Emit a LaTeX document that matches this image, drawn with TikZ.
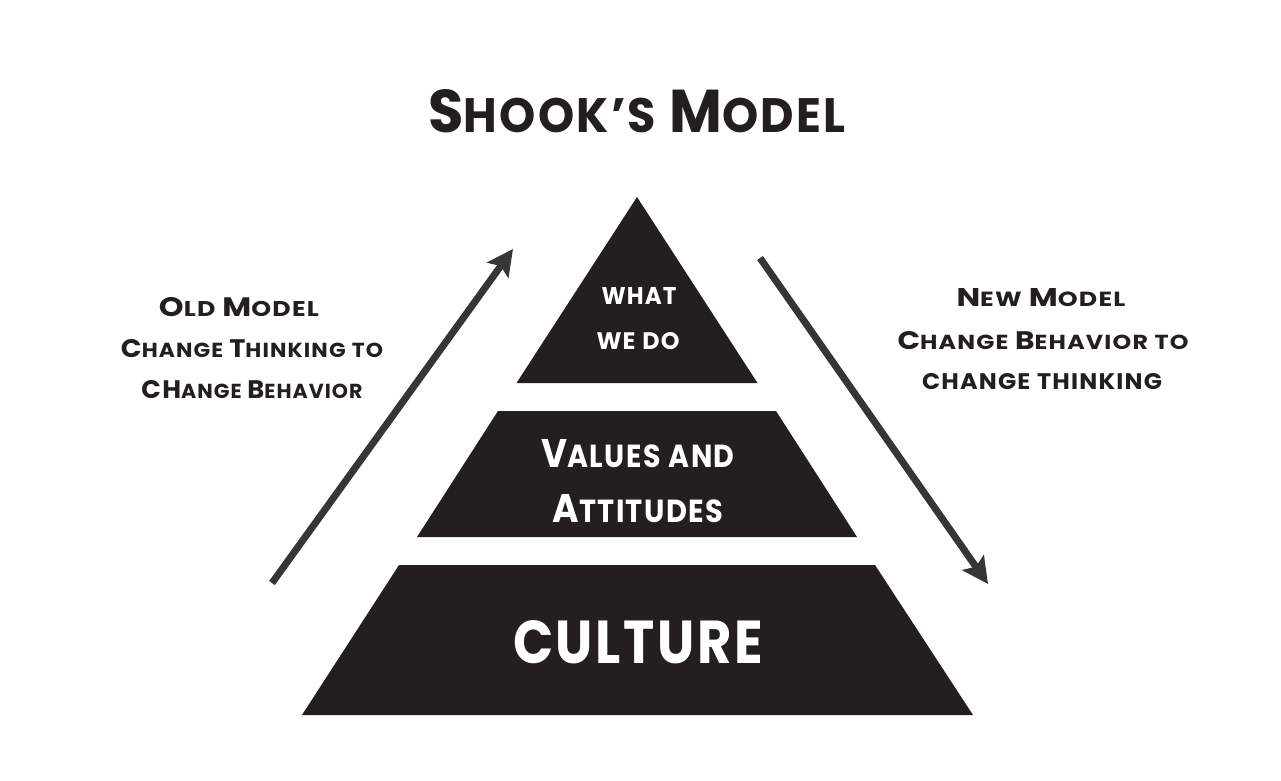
\documentclass[tikz,border=0pt]{standalone}
\usepackage{fontspec}
\setmainfont{Poppins}[LetterSpace=5]
\usetikzlibrary{arrows.meta}
\definecolor{pyr}{HTML}{231F20}
\definecolor{arr}{HTML}{363636}
\newcommand\BL[1]{{\fontsize{20}{24}\selectfont #1}}
\newcommand\SL[1]{{\fontsize{16}{24}\selectfont #1}}
\newcommand\gap{\hspace{0.45em}}
\newcommand\fitto[3]{\resizebox{#1}{#2}{\bfseries #3}}
\begin{document}
\begin{tikzpicture}[x=1pt,y=-1pt,
  lbl/.style={inner sep=0pt,outer sep=0pt,text=pyr},
  wlbl/.style={inner sep=0pt,outer sep=0pt,text=white},
  layer/.style={fill=pyr},
  flow/.style={draw=arr,line width=7pt,-{Stealth[length=26pt,width=26pt,inset=5pt]}}]
\useasboundingbox (0,0) rectangle (1281,780);
\fill[white] (0,0) rectangle (1281,780);
% pyramid
\fill[layer] (637,197) -- (757.5,383) -- (516.5,383) -- cycle;
\fill[layer] (498,411) -- (776,411) -- (857,537) -- (417,537) -- cycle;
\fill[layer] (399,565) -- (875,565) -- (973,715) -- (302,715) -- cycle;
% title
\node[lbl] (title) at (637,111) {\fitto{417pt}{43pt}{\BL{S}\SL{HOOK'S}\gap\BL{M}\SL{ODEL}}};
% left text
\node[lbl] (l1) at (239,307) {\fitto{160pt}{19pt}{\BL{O}\SL{LD}\gap\BL{M}\SL{ODEL}}};
\node[lbl] (l2) at (252,349) {\fitto{262pt}{18pt}{\BL{C}\SL{HANGE}\gap\BL{T}\SL{HINKING}\gap\SL{TO}}};
\node[lbl] (l3) at (252,390) {\fitto{221pt}{18pt}{\BL{CH}\SL{ANGE}\gap\BL{B}\SL{EHAVIOR}}};
% right text
\node[lbl] (r1) at (1041,298) {\fitto{169pt}{18pt}{\BL{N}\SL{EW}\gap\BL{M}\SL{ODEL}}};
\node[lbl] (r2) at (1043,341) {\fitto{291pt}{18pt}{\BL{C}\SL{HANGE}\gap\BL{B}\SL{EHAVIOR}\gap\SL{TO}}};
\node[lbl] (r3) at (1042,382) {\fitto{240pt}{16pt}{\SL{CHANGE}\gap\SL{THINKING}}};
% inner labels
\node[wlbl] (w1) at (639,296) {\fitto{75pt}{17pt}{\SL{WHAT}}};
\node[wlbl] (w2) at (638,341) {\fitto{83pt}{17pt}{\SL{WE}\gap\SL{DO}}};
\node[wlbl] (v1) at (638,454) {\fitto{193pt}{28pt}{\BL{V}\SL{ALUES}\gap\SL{AND}}};
\node[wlbl] (v2) at (638,509) {\fitto{171pt}{28pt}{\BL{A}\SL{TTITUDES}}};
\node[wlbl] (cu) at (638,642) {\fitto{250pt}{43pt}{\BL{CULTURE}}};
% arrows
\coordinate (a1s) at (272,583);
\coordinate (a1e) at (513,249);
\coordinate (a2s) at (760,258);
\coordinate (a2e) at (988,584);
\draw[flow] (a1s) -- (a1e);
\draw[flow] (a2s) -- (a2e);
\end{tikzpicture}
\end{document}
